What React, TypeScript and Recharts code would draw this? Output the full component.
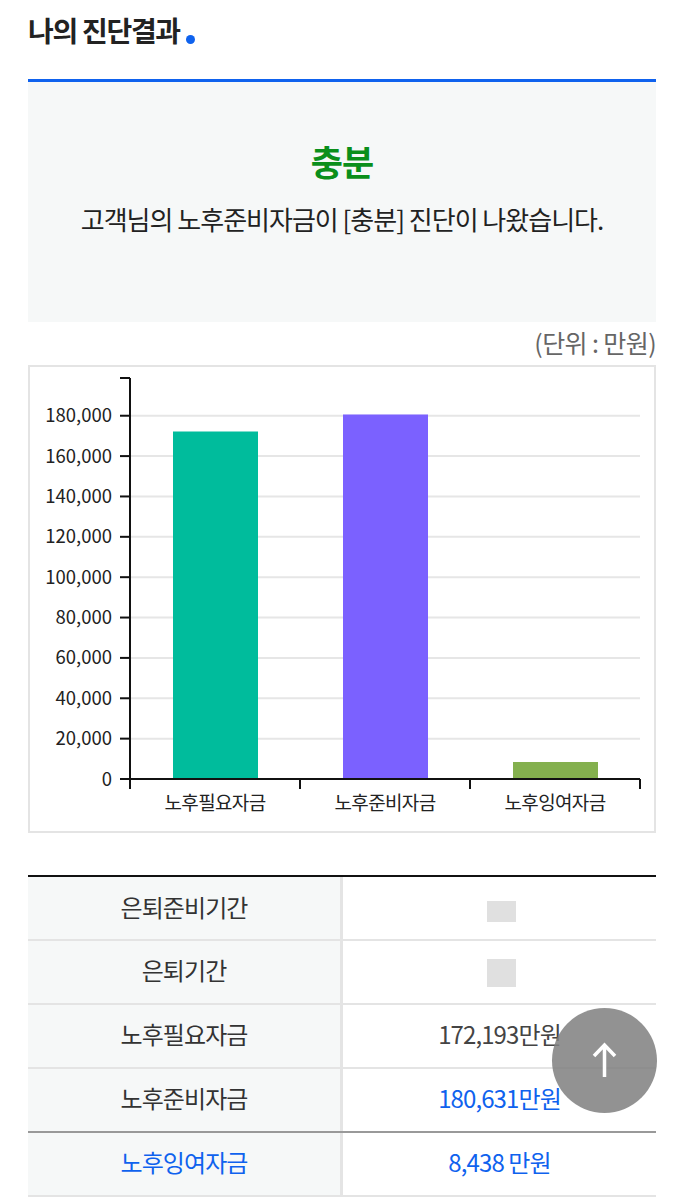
import { Bar, BarChart, CartesianGrid, Cell, XAxis, YAxis } from "recharts";

const FONT = '"Noto Sans CJK KR", "Noto Sans", sans-serif';
const BLUE = "#0f62ee";
const PANEL = "#f6f8f8";
const LINE = "#e4e4e4";

const CATEGORIES = ["노후필요자금", "노후준비자금", "노후잉여자금"];
const AMOUNTS = [172193, 180631, 8438];
const BAR_COLORS = ["#00bc9c", "#7b61ff", "#84b04e"];
const AXIS_MAX = 198694;
const GRID_VALUES = [20000, 40000, 60000, 80000, 100000, 120000, 140000, 160000, 180000];
const Y_TICKS = [0, ...GRID_VALUES, AXIS_MAX];

const ROW_LABELS = ["은퇴준비기간", "은퇴기간", "노후필요자금", "노후준비자금", "노후잉여자금"];
const ROW_VALUES = ["", "", "172,193만원", "180,631만원", "8,438 만원"];
const ROW_COLORS = ["#333", "#333", "#444", BLUE, BLUE];

const chartData = CATEGORIES.map((name, i) => ({ name, amount: AMOUNTS[i] }));

function formatTick(value: number) {
  return value === AXIS_MAX ? "" : value.toLocaleString("en-US");
}

// ticks sit on the band edges, labels in the middle of the band
function CategoryTick({ x, y, width, index, payload }: any) {
  const half = width / CATEGORIES.length / 2;
  return (
    <g>
      <line x1={x - half} x2={x - half} y1={y} y2={y + 10} stroke="#111" strokeWidth={2} />
      {index === CATEGORIES.length - 1 && (
        <line x1={x + half} x2={x + half} y1={y} y2={y + 10} stroke="#111" strokeWidth={2} />
      )}
      <text x={x} y={y + 31} textAnchor="middle" fontSize={19} letterSpacing={-0.65} fill="#222">
        {payload.value}
      </text>
    </g>
  );
}

function Box({ style, children }: { style: React.CSSProperties; children?: React.ReactNode }) {
  return <div style={{ position: "absolute", ...style }}>{children}</div>;
}

function Centered({ left, width, top, height, style, children }: any) {
  return (
    <Box
      style={{
        left,
        width,
        top,
        height,
        display: "flex",
        alignItems: "center",
        justifyContent: "center",
        whiteSpace: "nowrap",
        ...style,
      }}
    >
      {children}
    </Box>
  );
}

function ResultTable() {
  return (
    <>
      <Box style={{ left: 28, width: 628, top: 875, height: 2, background: "#111" }} />
      {ROW_LABELS.map((label, i) => {
        const top = 877 + i * 64;
        const textTop = i === 0 ? top - 2 : top - 3;
        return (
          <div key={label}>
            <Box style={{ left: 28, width: 312, top, height: 62, background: PANEL }} />
            <Box style={{ left: 340, width: 3, top, height: 64, background: LINE }} />
            <Box
              style={{
                left: 28,
                width: 628,
                top: top + 62,
                height: 2,
                background: i === 3 ? "#999" : LINE,
              }}
            />
            <Centered
              left={28}
              width={312}
              top={textTop}
              height={62}
              style={{ fontSize: 24, letterSpacing: -0.9, color: i === 4 ? BLUE : "#333" }}
            >
              {label}
            </Centered>
            <Centered
              left={343}
              width={313}
              top={textTop}
              height={62}
              style={{ fontSize: 24, letterSpacing: -0.9, color: ROW_COLORS[i] }}
            >
              {ROW_VALUES[i]}
            </Centered>
          </div>
        );
      })}
      <Box style={{ left: 487, width: 29, top: 901, height: 21, background: "#e0e0e0" }} />
      <Box style={{ left: 487, width: 29, top: 959, height: 28, background: "#e0e0e0" }} />
    </>
  );
}

export default function App() {
  return (
    <div
      style={{
        position: "absolute",
        left: 0,
        top: 0,
        width: 685,
        height: 1200,
        overflow: "hidden",
        background: "#fff",
        fontFamily: FONT,
      }}
    >
      <Box
        style={{
          left: 28,
          top: 10,
          fontSize: 28,
          lineHeight: "40px",
          fontWeight: 700,
          letterSpacing: -1.3,
          color: "#222",
          whiteSpace: "nowrap",
        }}
      >
        나의 진단결과
      </Box>
      <Box style={{ left: 186, top: 35, width: 9, height: 9, borderRadius: 5, background: BLUE }} />

      <Box style={{ left: 28, width: 628, top: 79, height: 3, background: BLUE }} />
      <Box style={{ left: 28, width: 628, top: 82, height: 240, background: PANEL }} />
      <Centered
        left={28}
        width={628}
        top={138}
        height={44}
        style={{ fontSize: 35, fontWeight: 700, letterSpacing: -1, color: "#0a8f1b" }}
      >
        충분
      </Centered>
      <Centered
        left={28}
        width={628}
        top={198}
        height={40}
        style={{ fontSize: 26, letterSpacing: -1, color: "#222" }}
      >
        고객님의 노후준비자금이 [충분] 진단이 나왔습니다.
      </Centered>
      <Box
        style={{
          right: 29,
          top: 325,
          fontSize: 25,
          lineHeight: "34px",
          letterSpacing: -0.6,
          color: "#666",
          whiteSpace: "nowrap",
        }}
      >
        (단위 : 만원)
      </Box>

      <Box
        style={{
          left: 28,
          top: 365,
          width: 624,
          height: 464,
          border: "2px solid #e4e4e4",
        }}
      />
      <Box style={{ left: 29, top: 366 }}>
        <BarChart
          width={626}
          height={465}
          data={chartData}
          margin={{ top: 12, right: 15, bottom: 0, left: 0 }}
          style={{ fontFamily: FONT }}
        >
          <CartesianGrid
            vertical={false}
            stroke="#e6e6e6"
            strokeWidth={2}
            horizontalValues={GRID_VALUES}
          />
          <XAxis
            dataKey="name"
            height={52}
            interval={0}
            axisLine={{ stroke: "#111", strokeWidth: 2 }}
            tickLine={false}
            tickSize={0}
            tickMargin={0}
            tick={<CategoryTick />}
          />
          <YAxis
            width={101}
            domain={[0, AXIS_MAX]}
            ticks={Y_TICKS}
            interval={0}
            tickFormatter={formatTick}
            tickSize={10}
            tickMargin={8}
            axisLine={{ stroke: "#111", strokeWidth: 2 }}
            tickLine={{ stroke: "#111", strokeWidth: 2 }}
            tick={{ fill: "#222", fontSize: 18.5 }}
          />
          <Bar dataKey="amount" barSize={85} isAnimationActive={false}>
            {BAR_COLORS.map((color) => (
              <Cell key={color} fill={color} />
            ))}
          </Bar>
        </BarChart>
      </Box>

      <ResultTable />

      <Box
        style={{
          left: 552,
          top: 1008,
          width: 105,
          height: 105,
          borderRadius: "50%",
          background: "rgba(128,128,128,0.86)",
        }}
      >
        <svg width={105} height={105}>
          <path
            d="M52.5 69 V37 M42 48 L52.5 37 L63 48"
            fill="none"
            stroke="#fff"
            strokeWidth={3.5}
          />
        </svg>
      </Box>
    </div>
  );
}
